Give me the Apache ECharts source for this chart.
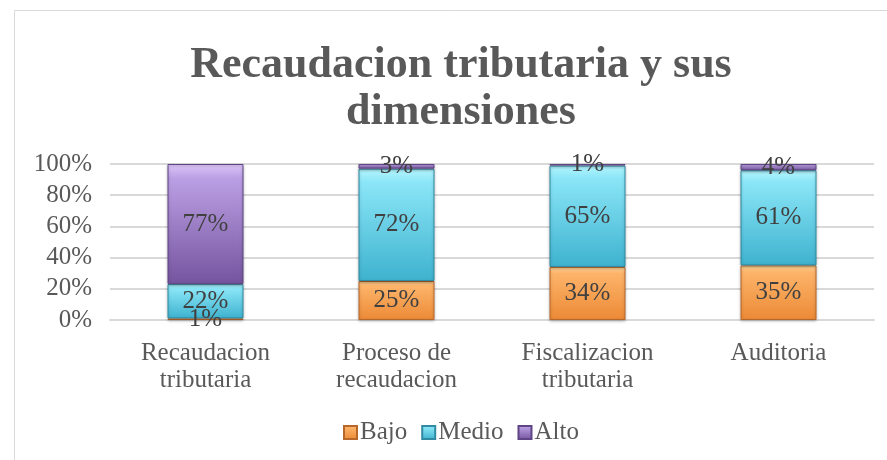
<!DOCTYPE html>
<html>
<head>
<meta charset="utf-8">
<script src="https://cdn.jsdelivr.net/npm/echarts@6/dist/echarts.min.js"></script>
<style>
  html, body { margin: 0; padding: 0; background: #fff; }
  #chart { width: 887px; height: 460px; }
</style>
</head>
<body>
<div id="chart"></div>
<script>
const categories = ['Recaudacion\ntributaria', 'Proceso de\nrecaudacion', 'Fiscalizacion\ntributaria', 'Auditoria']
const bajo = [1, 25, 34, 35]
const medio = [22, 72, 65, 61]
const alto = [77, 3, 1, 4]
const seriesNames = ['Bajo', 'Medio', 'Alto']

const font = 'Liberation Serif, Times New Roman, serif'

// excel-ish bevel look: light top, darker bottom
const grad = (top, mid, bottom) => new echarts.graphic.LinearGradient(0, 0, 0, 1, [
    { offset: 0, color: top },
    { offset: 0.12, color: mid },
    { offset: 1, color: bottom }
])

const styles = [
    { color: grad('#ffd89a', '#fdb46a', '#ec8a36'), borderColor: '#b8672a' },
    { color: grad('#b6f6ff', '#8be6f7', '#3eb2cf'), borderColor: '#2f8aa2' },
    { color: grad('#dcc6f8', '#bb9fe4', '#74549e'), borderColor: '#5f4585' }
]

const makeSeries = (name, data, i) => ({
    name: name,
    type: 'bar',
    stack: 'total',
    barWidth: 76,
    data: data,
    itemStyle: {
        color: styles[i].color,
        borderColor: styles[i].borderColor,
        borderWidth: 1,
        shadowColor: 'rgba(0,0,0,0.25)',
        shadowBlur: 3,
        shadowOffsetY: 1
    },
    label: {
        show: true,
        position: 'inside',
        formatter: p => p.value + '%',
        fontFamily: font,
        fontSize: 25,
        color: '#404040'
    }
})

const chart = echarts.init(document.getElementById('chart'))
chart.setOption({
    animation: false,
    title: {
        text: 'Recaudacion tributaria y sus\ndimensiones',
        left: 456,
        textAlign: 'center',
        top: 37,
        textStyle: {
            fontFamily: font,
            fontWeight: 'bold',
            fontSize: 44,
            lineHeight: 47,
            color: '#595959'
        }
    },
    graphic: [{
        type: 'rect',
        shape: { x: 14.5, y: 10.5, width: 900, height: 500 },
        style: { fill: 'none', stroke: '#d9d9d9', lineWidth: 1 },
        silent: true
    }],
    legend: {
        data: seriesNames,
        bottom: 10,
        left: 338,
        icon: 'rect',
        itemWidth: 13,
        itemHeight: 13,
        itemGap: 14,
        textStyle: { fontFamily: font, fontSize: 25, color: '#595959', padding: [0, 0, 0, -2] }
    },
    grid: { left: 110, right: 13, top: 164, bottom: 140 },
    xAxis: {
        type: 'category',
        data: categories,
        axisLine: { lineStyle: { color: '#d9d9d9', width: 2 } },
        axisTick: { show: false },
        axisLabel: {
            fontFamily: font,
            fontSize: 25,
            lineHeight: 27,
            color: '#595959',
            margin: 20
        }
    },
    yAxis: {
        type: 'value',
        min: 0,
        max: 100,
        interval: 20,
        axisLine: { show: false },
        axisTick: { show: false },
        splitLine: { lineStyle: { color: '#d9d9d9', width: 2 } },
        axisLabel: {
            formatter: '{value}%',
            fontFamily: font,
            fontSize: 25,
            color: '#595959',
            margin: 18
        }
    },
    series: [
        makeSeries('Bajo', bajo, 0),
        makeSeries('Medio', medio, 1),
        makeSeries('Alto', alto, 2)
    ]
})
</script>
</body>
</html>
